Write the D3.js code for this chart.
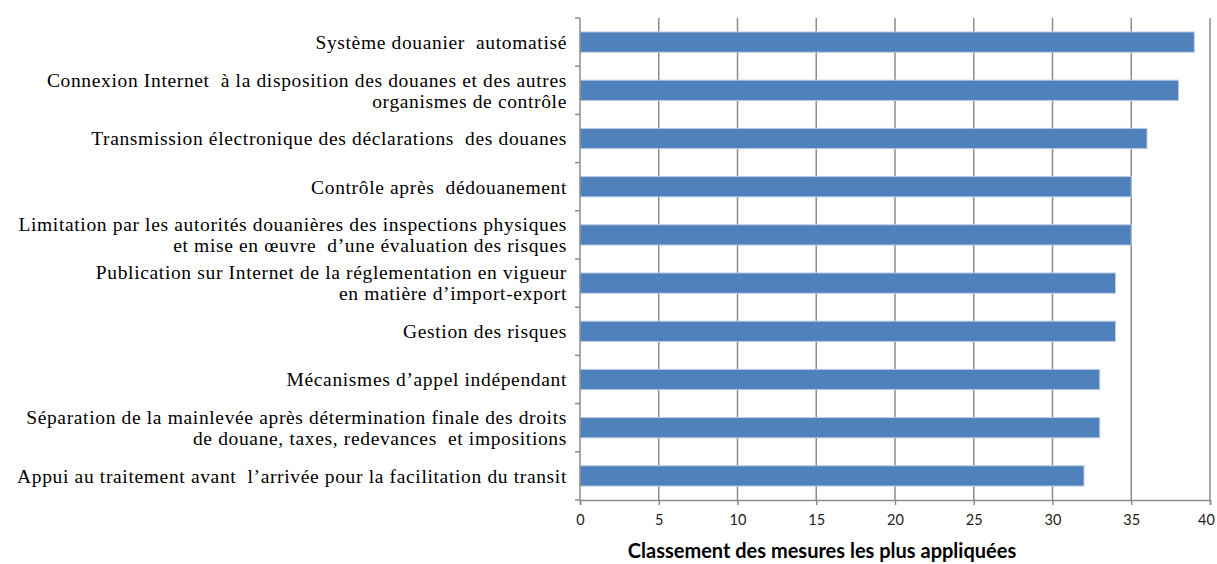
<!DOCTYPE html>
<html>
<head>
<meta charset="utf-8">
<script src="https://cdn.jsdelivr.net/npm/d3@7"></script>
<style>
  body { margin: 0; background: #fff; }
</style>
</head>
<body>
<svg id="chart"></svg>
<script>
// Measures, top to bottom, with their two-line splits
const measures = [
    ["Système douanier  automatisé"],
    ["Connexion Internet  à la disposition des douanes et des autres", "organismes de contrôle"],
    ["Transmission électronique des déclarations  des douanes"],
    ["Contrôle après  dédouanement"],
    ["Limitation par les autorités douanières des inspections physiques", "et mise en œuvre  d’une évaluation des risques"],
    ["Publication sur Internet de la réglementation en vigueur", "en matière d’import-export"],
    ["Gestion des risques"],
    ["Mécanismes d’appel indépendant"],
    ["Séparation de la mainlevée après détermination finale des droits", "de douane, taxes, redevances  et impositions"],
    ["Appui au traitement avant  l’arrivée pour la facilitation du transit"]
];
const counts = [39, 38, 36, 35, 35, 34, 34, 33, 33, 32];
const xTicks = [0, 5, 10, 15, 20, 25, 30, 35, 40];
const axisTitle = "Classement des mesures les plus appliquées";

const config = {
    width: 1217,
    height: 564,
    margin: { top: 18, right: 7, bottom: 64, left: 580 }
};
const innerH = config.height - config.margin.top - config.margin.bottom;

const svg = d3.select('#chart')
    .attr('width', config.width)
    .attr('height', config.height);

const chart = svg.append('g')
    .attr('transform', `translate(${config.margin.left},${config.margin.top})`);

const x = d3.scaleLinear().domain([0, 40]).range([0, 630]);
const y = d3.scaleBand()
    .domain(d3.range(measures.length))
    .range([0, innerH])
    .paddingInner(0.58)
    .paddingOuter(0.29);

// Vertical gridlines
chart.selectAll('.grid')
    .data(xTicks.slice(1))
    .join('line')
    .attr('class', 'grid')
    .attr('x1', d => x(d)).attr('x2', d => x(d))
    .attr('y1', 0).attr('y2', innerH)
    .attr('stroke', '#8c8c8c')
    .attr('stroke-width', 1.5);

// Bars
chart.selectAll('.bar')
    .data(counts)
    .join('rect')
    .attr('class', 'bar')
    .attr('x', 0)
    .attr('y', (d, i) => y(i))
    .attr('width', d => x(d))
    .attr('height', y.bandwidth())
    .attr('fill', '#4F81BD')
    .attr('stroke', '#b9cbe4')
    .attr('stroke-width', 1);

// Left axis line with category boundary ticks
chart.append('line')
    .attr('x1', 0).attr('x2', 0)
    .attr('y1', 0).attr('y2', innerH)
    .attr('stroke', '#8c8c8c').attr('stroke-width', 1.5);

const step = innerH / measures.length;
chart.selectAll('.ytick')
    .data(d3.range(measures.length + 1))
    .join('line')
    .attr('class', 'ytick')
    .attr('x1', -5).attr('x2', 0)
    .attr('y1', d => d * step).attr('y2', d => d * step)
    .attr('stroke', '#8c8c8c').attr('stroke-width', 1.5);

// Bottom axis
const xAxis = d3.axisBottom(x).tickValues(xTicks).tickSize(5).tickPadding(10);
const gx = chart.append('g')
    .attr('transform', `translate(0,${innerH})`)
    .call(xAxis);
gx.select('.domain').attr('stroke', '#8c8c8c').attr('stroke-width', 1.5);
gx.selectAll('.tick line').attr('stroke', '#8c8c8c').attr('stroke-width', 1.5);
gx.selectAll('.tick text')
    .attr('fill', '#222')
    .style('font-family', 'Lato, "Open Sans", sans-serif')
    .style('font-size', '14.5px');
// keep the last label inside the window
gx.selectAll('.tick text').filter(d => d === 40).attr('dx', -4);

// Category labels
const labels = chart.selectAll('.label')
    .data(measures)
    .join('text')
    .attr('class', 'label')
    .attr('text-anchor', 'end')
    .attr('fill', '#000')
    .style('font-family', '"Liberation Serif", "Times New Roman", serif')
    .style('font-size', '19.5px')
    .style('letter-spacing', '0.65px')
    .style('white-space', 'pre')
    .attr('transform', (d, i) => `translate(-13,${y(i) + y.bandwidth() / 2})`);

labels.selectAll('tspan')
    .data(d => d.map((t, j) => ({ t, j, n: d.length })))
    .join('tspan')
    .attr('x', 0)
    .attr('y', d => (d.j - (d.n - 1) / 2) * 21)
    .attr('dy', '0.35em')
    .text(d => d.t);

// Axis title
svg.append('text')
    .attr('x', 822)
    .attr('y', 558)
    .attr('text-anchor', 'middle')
    .attr('fill', '#000')
    .style('font-family', 'Lato, "Open Sans", sans-serif')
    .style('font-weight', 700)
    .style('font-size', '20px')
    .text(axisTitle);
</script>
</body>
</html>
